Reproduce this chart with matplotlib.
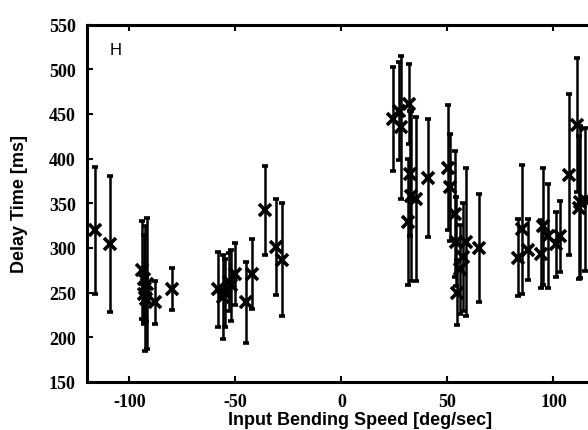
import matplotlib
matplotlib.use("Agg")
import matplotlib.pyplot as plt
import numpy as np

# Input bending speed [deg/sec]
speed = [-116, -109, -94, -93, -92.5, -93, -91.5, -92, -88, -80,
         -58, -56, -55, -53, -52, -50, -45, -42, -36, -31, -28,
         24.5, 27, 28.3, 32, 32.5, 31.5, 33, 35.4, 41,
         50.5, 51.4, 53.8, 54, 54.7, 56, 59, 57.5, 65,
         83.5, 85.4, 88.2, 94, 95.3, 97.6, 101.4, 103, 107.5, 111, 112, 112.7, 115]
# Delay time [ms]
delay = [320, 304, 275, 265, 255, 248, 260, 243, 239, 254,
         254, 245, 250, 262, 258, 271, 239, 271, 342, 301, 287,
         444, 453, 435, 461, 383, 329, 358, 355, 378,
         390, 368, 338, 307, 250, 276, 307, 290, 300,
         289, 321, 298, 293, 324, 313, 304, 313, 382, 438, 345, 351, 354]
# Error (std) [ms]
err = [71, 76, 55, 50, 70, 30, 73, 25, 24, 23,
       42, 47, 38, 32, 40, 35, 45, 39, 50, 54, 63,
       58, 55, 80, 45, 70, 70, 95, 92, 66,
       70, 60, 70, 50, 36, 50, 83, 60, 60,
       43, 72, 34, 38, 66, 58, 36, 40, 90, 75, 80, 85, 80]

xticks = [-100, -50, 0, 50, 100]
yticks = [150, 200, 250, 300, 350, 400, 450, 500, 550]

fig = plt.figure(figsize=(5.88, 4.31), dpi=100)
W, H = 588, 431
x0, x1 = -120, 120
left_px, bottom_px, top_px = 87, 383, 25.5
px_per_unit = 2.12
ax = fig.add_axes([left_px / W, (H - bottom_px) / H,
                   (x1 - x0) * px_per_unit / W, (bottom_px - top_px) / H])

ax.errorbar(speed, delay, yerr=err, fmt='x', color='black', ecolor='black',
            elinewidth=1.8, capsize=2.5, capthick=1.5, markersize=8.5,
            markeredgewidth=2.6)

ax.set_xlim(x0, x1)
ax.set_ylim(150, 550)
ax.set_xticks(xticks)
ax.set_yticks(yticks)
ax.set_xticklabels([str(t) for t in xticks])
ax.set_yticklabels([str(t) for t in yticks])
for s in ax.spines.values():
    s.set_linewidth(2.2)
ax.tick_params(direction='in', length=4, width=1.5, top=True, right=True,
               labelsize=13, pad=8)
for lab in ax.get_xticklabels() + ax.get_yticklabels():
    lab.set_fontfamily('Liberation Serif')
    lab.set_fontweight('bold')

ax.set_xlabel('Input Bending Speed [deg/sec]', fontsize=13,
              family='Liberation Sans', fontweight='bold', va='center')
ax.xaxis.set_label_coords(0.536, -0.106)
ax.set_ylabel('Delay Time [ms]', fontsize=13, family='Liberation Sans',
              fontweight='bold', va='center')
ax.yaxis.set_label_coords(-0.1336, 0.5)
ax.text(-106.6, 521.5, 'H', fontsize=12, family='Liberation Sans',
        ha='center', va='center')

fig.savefig('out.png', dpi=100)
